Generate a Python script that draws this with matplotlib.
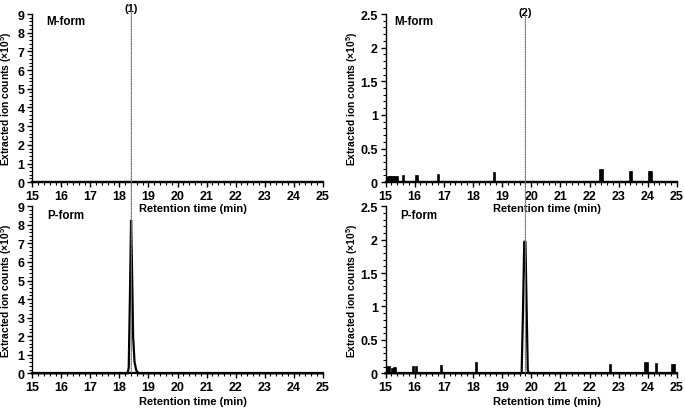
import matplotlib
matplotlib.use("Agg")
import matplotlib.pyplot as plt
from matplotlib.patches import ConnectionPatch
from matplotlib.ticker import MultipleLocator

plt.rcParams['font.family'] = ['Liberation Sans', 'DejaVu Sans']
plt.rcParams['font.weight'] = 'bold'
plt.rcParams['mathtext.fontset'] = 'custom'
plt.rcParams['mathtext.rm'] = 'Liberation Sans:bold'
plt.rcParams['mathtext.bf'] = 'Liberation Sans:bold'
plt.rcParams['mathtext.default'] = 'bf'

# ---------------- data ----------------
x_ticks = [15, 16, 17, 18, 19, 20, 21, 22, 23, 24, 25]
left_yticks = [0, 1, 2, 3, 4, 5, 6, 7, 8, 9]
right_yticks = [0, 0.5, 1, 1.5, 2, 2.5]
right_ytick_labels = ["0", "0.5", "1", "1.5", "2", "2.5"]

marker1_time = 18.41
marker2_time = 19.80

# left P-form trace (retention time, counts x1e5)
p_left_time = [15.0, 18.28, 18.32, 18.36, 18.40, 18.43, 18.47, 18.52, 18.58, 18.66, 25.0]
p_left_counts = [0, 0, 0.3, 4.0, 8.25, 6.0, 2.0, 0.6, 0.15, 0, 0]

# right P-form main peak
p_right_time = [15.0, 19.67, 19.72, 19.76, 19.80, 19.84, 19.88, 19.92, 25.0]
p_right_counts = [0, 0, 1.0, 1.97, 1.97, 1.0, 0.05, 0, 0]

# right M-form small spikes
m_spike_times = [15.05, 15.12, 15.19, 15.26, 15.33, 15.40, 15.62, 16.08, 16.82,
                 18.73, 22.38, 22.45, 23.42, 24.06, 24.11]
m_spike_counts = [0.06, 0.07, 0.07, 0.07, 0.07, 0.07, 0.09, 0.095, 0.10,
                  0.135, 0.175, 0.175, 0.155, 0.15, 0.15]

# right P-form small spikes
p_spike_times = [15.06, 15.12, 15.26, 15.33, 15.97, 16.06, 16.93, 18.13,
                 22.73, 23.93, 23.98, 24.29, 24.86, 24.92]
p_spike_counts = [0.08, 0.09, 0.07, 0.08, 0.095, 0.095, 0.11, 0.15,
                  0.13, 0.15, 0.15, 0.14, 0.13, 0.13]

ylabel_text = "Extracted ion counts (\u00d710$^{5}$)"
xlabel_text = "Retention time (min)"

# ---------------- figure ----------------
fig = plt.figure(figsize=(6.85, 4.1), dpi=100)
ax_tl = fig.add_axes([0.0472, 0.5532, 0.4239, 0.4102])
ax_bl = fig.add_axes([0.0472, 0.0871, 0.4239, 0.4073])
ax_tr = fig.add_axes([0.5628, 0.5532, 0.4255, 0.4102])
ax_br = fig.add_axes([0.5628, 0.0871, 0.4255, 0.4073])
for a in (ax_tl, ax_bl, ax_tr, ax_br):
    a.set_facecolor('none')
ax_tl.set_zorder(3)
ax_tr.set_zorder(3)

def style(ax, left, yticks, ytl, ylim, ylabel_x, xlabel_y):
    ax.set_xlim(15, 25)
    ax.set_ylim(*ylim)
    ax.set_xticks(x_ticks)
    ax.set_xticklabels([str(t) for t in x_ticks])
    ax.set_yticks(yticks)
    ax.set_yticklabels(ytl)
    ax.xaxis.set_minor_locator(MultipleLocator(0.2))
    ax.yaxis.set_minor_locator(MultipleLocator(0.2 if left else 0.1))
    for s in ['top', 'right']:
        ax.spines[s].set_visible(False)
    ax.spines['left'].set_linewidth(1.0)
    ax.spines['bottom'].set_linewidth(1.6)
    ax.tick_params(which='major', direction='out', length=3.5, width=1.0,
                   labelsize=9, pad=2)
    ax.tick_params(which='minor', direction='out', length=2, width=0.8)
    for lab in ax.get_xticklabels() + ax.get_yticklabels():
        lab.set_fontweight('bold')
    ax.set_ylabel(ylabel_text, fontsize=7.4, fontweight='bold')
    ax.yaxis.label.set_va('center')
    ax.yaxis.set_label_coords(ylabel_x, 0.5)
    ax.set_xlabel(xlabel_text, fontsize=8, fontweight='bold')
    ax.xaxis.label.set_va('center')
    ax.xaxis.set_label_coords(0.553, xlabel_y)

style(ax_tl, True, left_yticks, [str(v) for v in left_yticks], (0, 9), -0.089, -0.153)
style(ax_bl, True, left_yticks, [str(v) for v in left_yticks], (0, 9), -0.089, -0.164)
style(ax_tr, False, right_yticks, right_ytick_labels, (0, 2.5), -0.115, -0.153)
style(ax_br, False, right_yticks, right_ytick_labels, (0, 2.5), -0.115, -0.164)

# panel labels
ax_tl.text(0.047, 0.958, "M-form", transform=ax_tl.transAxes, fontsize=8.3, fontweight='bold', va='center')
ax_bl.text(0.050, 0.948, "P-form", transform=ax_bl.transAxes, fontsize=8.3, fontweight='bold', va='center')
ax_tr.text(0.030, 0.957, "M-form", transform=ax_tr.transAxes, fontsize=8.3, fontweight='bold', va='center')
ax_br.text(0.050, 0.950, "P-form", transform=ax_br.transAxes, fontsize=8.3, fontweight='bold', va='center')

# traces
lw = 1.6
ax_tl.plot([15, 25], [0, 0], color='black', lw=lw, clip_on=False)
ax_bl.plot(p_left_time, p_left_counts, color='black', lw=lw, clip_on=False, solid_joinstyle='miter')
ax_br.plot(p_right_time, p_right_counts, color='black', lw=lw, clip_on=False)
ax_tr.plot([15, 25], [0, 0], color='black', lw=lw, clip_on=False)
ax_tr.bar(m_spike_times, m_spike_counts, width=0.045, color='black', edgecolor='black', linewidth=1.2)
ax_br.bar(p_spike_times, p_spike_counts, width=0.045, color='black', edgecolor='black', linewidth=1.2)

# marker lines spanning both panels
for top, bot, t, ytop, lab, ylab in [(ax_tl, ax_bl, marker1_time, 1.018, "(1)", 1.034),
                                     (ax_tr, ax_br, marker2_time, 1.0, "(2)", 1.012)]:
    con = ConnectionPatch(xyA=(t, ytop), coordsA=top.get_xaxis_transform(),
                          xyB=(t, 0), coordsB=bot.transData,
                          color='#777777', lw=0.9, linestyle=(0, (1, 1)), zorder=5)
    fig.add_artist(con)
    top.text(t, ylab, lab, transform=top.get_xaxis_transform(), ha='center', va='center',
             fontsize=8, fontweight='bold', clip_on=False)

fig.savefig("out.png", dpi=100)
